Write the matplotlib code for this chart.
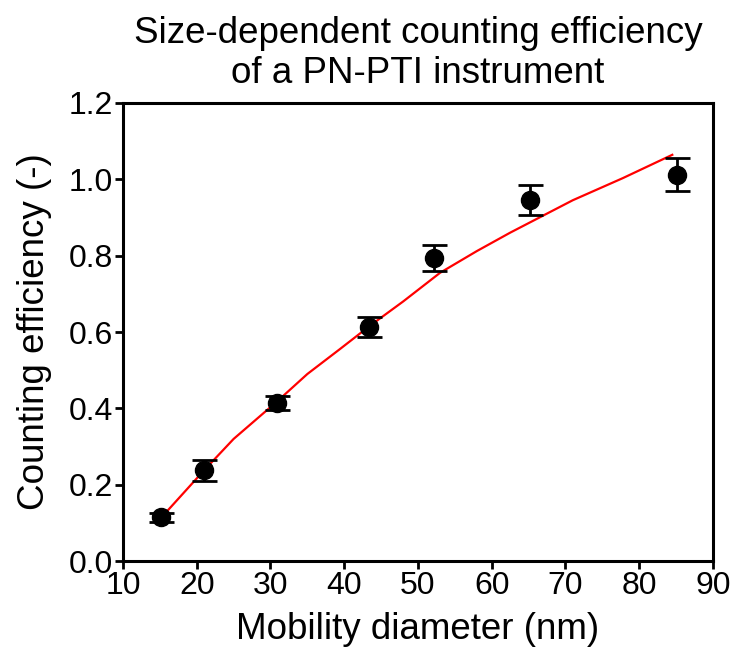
import matplotlib.pyplot as plt
import numpy as np

plt.rcParams['font.family'] = ['Liberation Sans', 'DejaVu Sans']

# Measured points
diameter = [15.2, 21.0, 30.9, 43.4, 52.2, 65.2, 85.1]
efficiency = [0.115, 0.238, 0.414, 0.613, 0.794, 0.946, 1.012]
efficiency_err = [0.012, 0.027, 0.018, 0.026, 0.034, 0.039, 0.043]

# Fit curve
fit_x = [15, 21, 25, 31, 35, 39.4, 43.4, 48, 53, 58, 62.5, 66.5, 71, 77.8, 84.5]
fit_y = [0.11, 0.238, 0.32, 0.42, 0.49, 0.555, 0.615, 0.68, 0.755, 0.812, 0.86, 0.90, 0.945, 1.003, 1.064]

fig = plt.figure(figsize=(7.41, 6.51), dpi=100)
ax = fig.add_axes([0.166, 0.138, 0.796, 0.704])

ax.plot(fit_x, fit_y, color='#ff0000', lw=1.6, zorder=2)
ax.errorbar(diameter, efficiency, yerr=efficiency_err, fmt='o', color='black',
            markersize=13, capsize=9, capthick=2, elinewidth=2, zorder=3)

ax.set_xlim(10, 90)
ax.set_ylim(0, 1.2)
ax.set_xticks(np.arange(10, 91, 10))
ax.set_yticks(np.arange(0, 1.21, 0.2))
ax.set_yticklabels(['{:.1f}'.format(v) for v in np.arange(0, 1.21, 0.2)])

for s in ax.spines.values():
    s.set_linewidth(2.2)
ax.tick_params(axis='both', direction='out', length=6, width=2, labelsize=23, pad=1)

ax.set_xlabel('Mobility diameter (nm)', fontsize=26.5, labelpad=8)
ax.set_ylabel('Counting efficiency (-)', fontsize=26.5, labelpad=12)
ax.set_title('Size-dependent counting efficiency\nof a PN-PTI instrument', fontsize=26.5,
             pad=14, linespacing=1.2)

fig.savefig('out.png', dpi=100)
